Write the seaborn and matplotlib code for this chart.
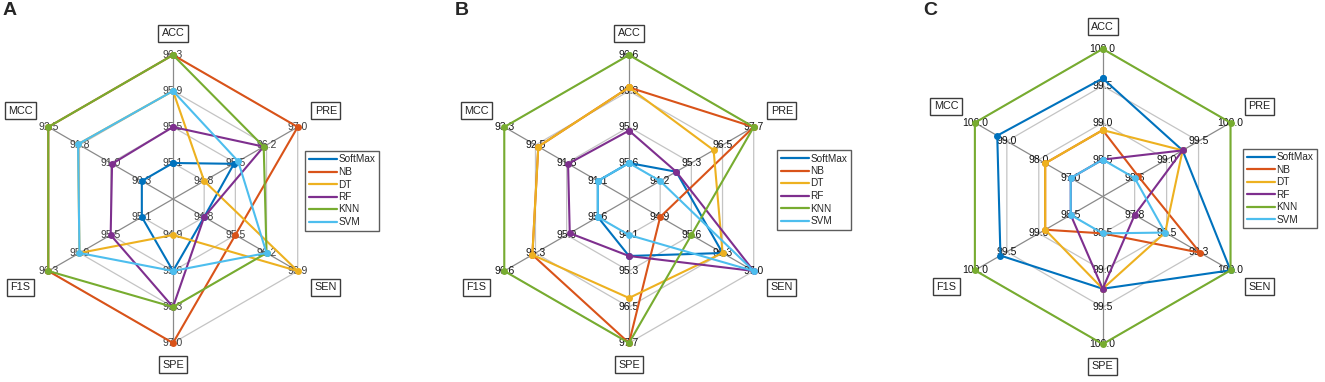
import numpy as np
import pandas as pd
import seaborn as sns
import matplotlib.pyplot as plt
from matplotlib.lines import Line2D

sns.set_style("white")
plt.rcParams['font.family'] = ['Liberation Sans', 'DejaVu Sans']

W, H = 1325, 382

metrics = ['ACC', 'PRE', 'SEN', 'SPE', 'F1S', 'MCC']
models = ['SoftMax', 'NB', 'DT', 'RF', 'KNN', 'SVM']
colors = ['#0072BD', '#D95319', '#EDB120', '#7E2F8E', '#77AC30', '#4DBEEE']

# ring labels (ring 1 .. ring 4) for each metric, in the order of `metrics`
ticks_a = [[95.1, 95.5, 95.9, 96.3],
           [94.8, 95.5, 96.2, 97.0],
           [94.8, 95.5, 96.2, 96.9],
           [94.9, 95.6, 96.3, 97.0],
           [95.1, 95.5, 95.9, 96.3],
           [90.3, 91.0, 91.8, 92.5]]
ticks_b = [[95.6, 95.9, 96.3, 96.6],
           [94.2, 95.3, 96.5, 97.7],
           [94.9, 95.6, 96.3, 97.0],
           [94.1, 95.3, 96.5, 97.7],
           [95.6, 95.9, 96.3, 96.6],
           [91.1, 91.8, 92.5, 93.3]]
ticks_c = [[98.5, 99.0, 99.5, 100.0],
           [98.6, 99.0, 99.5, 100.0],
           [97.8, 98.5, 99.3, 100.0],
           [98.5, 99.0, 99.5, 100.0],
           [98.5, 99.0, 99.5, 100.0],
           [97.0, 98.0, 99.0, 100.0]]

# scores per model (rows) and metric (columns)
scores_a = [[95.1, 95.5, 94.8, 95.6, 95.1, 90.3],
            [96.3, 97.0, 95.5, 97.0, 96.3, 92.5],
            [95.9, 94.8, 96.9, 94.9, 95.9, 91.8],
            [95.5, 96.2, 94.8, 96.3, 95.5, 91.0],
            [96.3, 96.2, 96.2, 96.3, 96.3, 92.5],
            [95.9, 95.6, 96.2, 95.6, 95.9, 91.8]]
scores_b = [[95.6, 94.8, 96.3, 94.8, 95.6, 91.1],
            [96.3, 97.7, 94.9, 97.7, 96.3, 92.5],
            [96.3, 96.2, 96.3, 96.2, 96.3, 92.5],
            [95.9, 94.8, 97.0, 94.8, 95.9, 91.8],
            [96.6, 97.7, 95.6, 97.7, 96.6, 93.3],
            [95.6, 94.2, 97.0, 94.1, 95.6, 91.1]]
scores_c = [[99.6, 99.3, 100.0, 99.25, 99.6, 99.3],
            [98.9, 98.65, 99.3, 98.5, 98.9, 97.8],
            [98.9, 99.3, 98.5, 99.25, 98.9, 97.8],
            [98.5, 99.3, 97.8, 99.25, 98.5, 97.0],
            [100.0, 100.0, 100.0, 100.0, 100.0, 100.0],
            [98.5, 98.6, 98.5, 98.5, 98.5, 97.0]]

angles = np.deg2rad([90, 30, -30, -90, -150, 150])
label_r = [4.6, 4.9, 4.9, 4.6, 4.9, 4.9]


def radius(v, t):
    # spider-plot style: min on ring 1, max on ring 4
    return 1 + 3 * (v - t[0]) / (t[-1] - t[0])


def radar(ax, ticks, scores, tick_color):
    ca, sa = np.cos(angles), np.sin(angles)
    # webs and spokes
    for ring in range(1, 5):
        ax.plot(np.append(ca, ca[0]) * ring, np.append(sa, sa[0]) * ring,
                color='#c4c4c4', lw=0.9, zorder=1)
    for c, s in zip(ca, sa):
        ax.plot([0, 4 * c], [0, 4 * s], color='#8a8a8a', lw=0.9, zorder=1)
    # ring labels
    for i, t in enumerate(ticks):
        for ring, v in enumerate(t, start=1):
            ax.text(ring * ca[i], ring * sa[i], f"{v:.1f}", ha='center', va='center',
                    fontsize=7.5, color=tick_color, zorder=2)
    # metric names in boxes
    for i, m in enumerate(metrics):
        ax.text(label_r[i] * ca[i], label_r[i] * sa[i], m, ha='center', va='center',
                fontsize=7.8, color='#222222',
                bbox=dict(boxstyle='square,pad=0.32', fc='white', ec='#3c3c3c', lw=1))
    rows = []
    for name, vals in zip(models, scores):
        r = [radius(v, t) for v, t in zip(vals, ticks)]
        r.append(r[0])
        ang = np.append(angles, angles[0])
        for k in range(len(r)):
            rows.append({'model': name, 'x': r[k] * np.cos(ang[k]), 'y': r[k] * np.sin(ang[k])})
    df = pd.DataFrame(rows)
    sns.lineplot(data=df, x='x', y='y', hue='model', hue_order=models,
                 palette=dict(zip(models, colors)), sort=False, estimator=None,
                 marker='o', markersize=5, markeredgewidth=0, linewidth=1.5,
                 legend=False, ax=ax, zorder=3)


fig = plt.figure(figsize=(W / 100, H / 100), dpi=100)

panels = [
    # letter, left, width, cx, cy, unit, legend (x, y), letter x, data
    ('A', 0, 440, 173, 199, 36.0, (305, 151), 3, ticks_a, scores_a, '#3a3a3a'),
    ('B', 440, 440, 629, 199, 36.0, (777, 150), 455, ticks_b, scores_b, '#111111'),
    ('C', 880, 445, 1102.7, 196.5, 36.9, (1243, 149), 923, ticks_c, scores_c, '#111111'),
]

for letter, left, width, cx, cy, unit, leg_xy, lx, ticks, scores, tc in panels:
    ax = fig.add_axes([left / W, 0, width / W, 1])
    radar(ax, ticks, scores, tc)
    ax.set_xlim(-(cx - left) / unit, (left + width - cx) / unit)
    ax.set_ylim(-(H - cy) / unit, cy / unit)
    ax.set_aspect('auto')
    ax.axis('off')
    handles = [Line2D([], [], color=c, lw=1.6) for c in colors]
    leg = ax.legend(handles, models, loc='upper left',
                    bbox_to_anchor=(leg_xy[0] / W, 1 - leg_xy[1] / H),
                    bbox_transform=fig.transFigure, frameon=True, fancybox=False,
                    edgecolor='#333333', fontsize=7.2, handlelength=2.8,
                    handletextpad=0.2, labelspacing=0.25, borderpad=0.35,
                    borderaxespad=0)
    leg.get_frame().set_linewidth(1)
    fig.text(lx / W, 1 - 2 / H, letter, ha='left', va='top', fontsize=14,
             fontweight='bold')

fig.savefig('out.png', dpi=100)
